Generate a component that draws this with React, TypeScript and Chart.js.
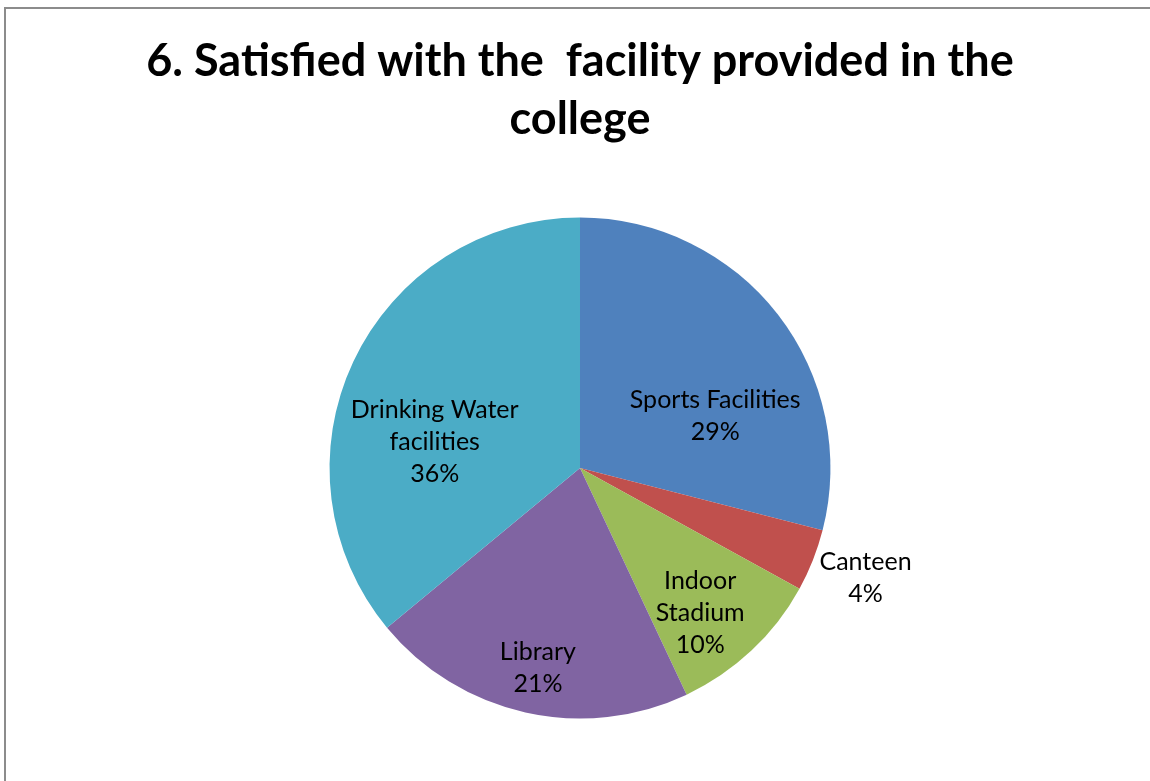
import React, { useEffect, useRef } from "react";
import { Chart, registerables } from "chart.js";

Chart.register(...registerables);

const categories: string[][] = [
  ["Sports Facilities"],
  ["Canteen"],
  ["Indoor", "Stadium"],
  ["Library"],
  ["Drinking Water", "facilities"],
];
const values: number[] = [29, 4, 10, 21, 36];
const colors: string[] = ["#4F81BD", "#C0504D", "#9BBB59", "#8064A2", "#4BACC6"];
const titleLines: string[] = ["6. Satisfied with the  facility provided in the", "college"];

// label anchor offsets relative to pie center, in units of radius
const labelAnchors: [number, number][] = [
  [0.54, -0.21],
  [1.14, 0.44],
  [0.48, 0.58],
  [-0.168, 0.8],
  [-0.58, -0.104],
];

const TITLE_FONT = "Lato, 'Open Sans', sans-serif";
const LABEL_FONT = "Lato, 'Open Sans', sans-serif";

const labelPlugin = {
  id: "sliceLabels",
  afterDatasetsDraw(chart: any) {
    const meta = chart.getDatasetMeta(0);
    const ctx = chart.ctx;
    const total = values.reduce((a, b) => a + b, 0);
    ctx.save();
    ctx.font = `25px ${LABEL_FONT}`;
    ctx.fillStyle = "#000";
    ctx.textAlign = "center";
    ctx.textBaseline = "middle";
    const lh = 32;
    meta.data.forEach((arc: any, i: number) => {
      const r = arc.outerRadius;
      const cx = arc.x + labelAnchors[i][0] * r;
      const cy = arc.y + labelAnchors[i][1] * r;
      const lines = [...categories[i], `${Math.round((values[i] / total) * 100)}%`];
      const startY = cy - ((lines.length - 1) * lh) / 2;
      lines.forEach((t, k) => ctx.fillText(t, cx, startY + k * lh));
    });
    ctx.restore();
  },
};

export default function App() {
  const ref = useRef<HTMLCanvasElement>(null);
  useEffect(() => {
    if (!ref.current) return;
    const chart = new Chart(ref.current, {
      type: "pie",
      data: {
        labels: categories.map((c) => c.join(" ")),
        datasets: [
          {
            data: values,
            backgroundColor: colors,
            borderWidth: 0,
          },
        ],
      },
      options: {
        animation: false,
        responsive: false,
        maintainAspectRatio: false,
        layout: { padding: { top: 0, bottom: 62.5, left: 0, right: 0 } },
        plugins: {
          legend: { display: false },
          tooltip: { enabled: false },
          title: {
            display: true,
            text: titleLines,
            color: "#000",
            font: { family: TITLE_FONT, size: 45, weight: "bold", lineHeight: 1.29 },
            padding: { top: 25, bottom: 69.5 },
          },
        },
      },
      plugins: [labelPlugin],
    });
    return () => chart.destroy();
  }, []);

  return (
    <div style={{ position: "fixed", left: 0, top: 0, width: 1150, height: 781, overflow: "hidden", background: "#fff" }}>
      <div
        style={{
          position: "absolute",
          left: 4,
          top: 7,
          width: 1300,
          height: 900,
          border: "2px solid #8c8c8c",
          boxSizing: "border-box",
        }}
      />
      <canvas
        ref={ref}
        width={1152}
        height={774}
        style={{ position: "absolute", left: 4, top: 7, width: 1152, height: 774 }}
      />
    </div>
  );
}
